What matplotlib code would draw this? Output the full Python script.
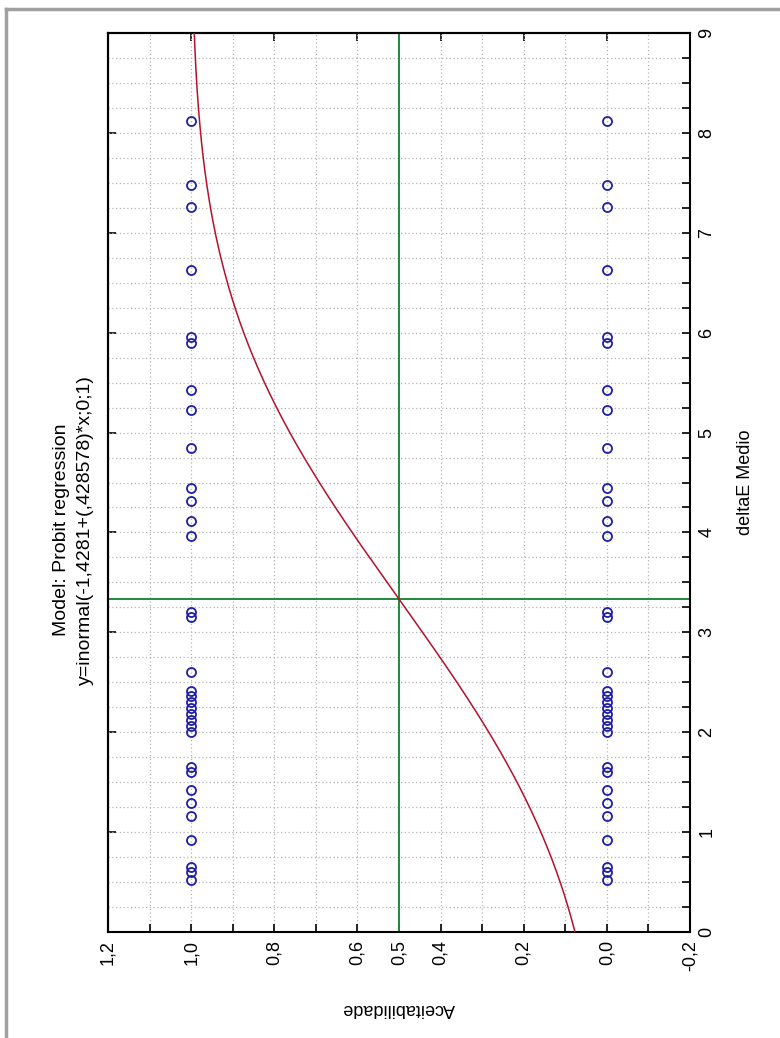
import math
import numpy as np
import matplotlib
matplotlib.use("Agg")
import matplotlib.pyplot as plt
from matplotlib.lines import Line2D

# ============ DATA ============
# deltaE Medio of each observation (same set for accepted=1 and rejected=0)
delta_e = [0.52, 0.60, 0.65, 0.92, 1.16, 1.29, 1.42, 1.60, 1.65,
           2.00, 2.06, 2.12, 2.18, 2.24, 2.30, 2.36, 2.41, 2.60,
           3.15, 3.20, 3.96, 4.11, 4.31, 4.44, 4.85, 5.23, 5.43,
           5.90, 5.96, 6.63, 7.26, 7.48, 8.12]
accept_levels = [1.0, 0.0]

# probit model y = inormal(b0 + b1*x; 0; 1)
b0 = -1.4281
b1 = 0.428578

acc_ticks = [1.2, 1.1, 1.0, 0.9, 0.8, 0.7, 0.6, 0.5, 0.4, 0.3, 0.2, 0.1, 0.0, -0.1, -0.2]
acc_labels = {1.2: "1,2", 1.0: "1,0", 0.8: "0,8", 0.6: "0,6", 0.5: "0,5",
              0.4: "0,4", 0.2: "0,2", 0.0: "0,0", -0.2: "-0,2"}
de_ticks = list(np.arange(0, 9.01, 0.25))

title_1 = "Model: Probit regression"
title_2 = "y=inormal(-1,4281+(,428578)*x;0;1)"

# ============ STYLE ============
plt.rcParams['font.family'] = ['Liberation Sans', 'DejaVu Sans']
FS = 13
POINT_COLOR = "#1f1fa8"
CURVE_COLOR = "#b3122e"
GREEN = "#1f8a3c"
GRID_COLOR = "#b5b5b5"

fig = plt.figure(figsize=(7.8, 10.38), dpi=100)
fig.patch.set_facecolor("white")

# chart is drawn turned a quarter turn: Aceitabilidade runs along the
# horizontal axis (inverted), deltaE Medio runs up the vertical axis
ax = fig.add_axes([108 / 780, 1 - 932 / 1038, 582 / 780, 899 / 1038])
ax.set_xlim(1.2, -0.2)
ax.set_ylim(0, 9)

ax.set_xticks(acc_ticks)
ax.set_xticklabels([acc_labels.get(round(t, 1), "") for t in acc_ticks],
                   rotation=90, fontsize=FS)
ax.set_yticks(de_ticks)
ax.set_yticklabels([str(int(t)) if float(t).is_integer() else "" for t in de_ticks],
                   rotation=90, fontsize=FS, va="center")
ax.yaxis.tick_right()
ax.tick_params(direction="in", length=6, width=1.2, pad=6)

sec_top = ax.secondary_xaxis("top")
sec_top.set_xticks([1.0, 0.8, 0.6, 0.4, 0.2, 0.0])
sec_top.tick_params(direction="in", length=6, width=1.2, labeltop=False)
sec_left = ax.secondary_yaxis("left")
sec_left.set_yticks(range(10))
sec_left.tick_params(direction="in", length=6, width=1.2, labelleft=False)

for sp in list(ax.spines.values()):
    sp.set_linewidth(1.5)
for s in (sec_top, sec_left):
    for sp in s.spines.values():
        sp.set_linewidth(1.5)

ax.grid(True, color=GRID_COLOR, linestyle=(0, (1, 2)), linewidth=0.9)
ax.set_axisbelow(True)

# fitted curve
xs = np.linspace(0, 9, 300)
ps = np.array([0.5 * (1 + math.erf((b0 + b1 * v) / math.sqrt(2))) for v in xs])
ax.plot(ps, xs, color=CURVE_COLOR, linewidth=1.1, zorder=3)

# 50% reference lines
x50 = -b0 / b1
ax.axvline(0.5, color=GREEN, linewidth=1.4, zorder=2)
ax.axhline(x50, color=GREEN, linewidth=1.4, zorder=2)

# observations
for lvl in accept_levels:
    ax.plot([lvl] * len(delta_e), delta_e, linestyle="none", marker="o",
            markersize=6.5, markerfacecolor="none", markeredgecolor=POINT_COLOR,
            markeredgewidth=1.3, zorder=4)

# labels (rotated with the chart)
fig.text(399 / 780, 1 - 1008 / 1038, "Aceitabilidade", rotation=180,
         ha="center", va="center", fontsize=FS)
fig.text(745 / 780, 1 - 482 / 1038, "deltaE Medio", rotation=90,
         ha="center", va="center", fontsize=FS)
fig.text(62 / 780, 1 - 530 / 1038, title_1, rotation=90,
         ha="center", va="center", fontsize=14)
fig.text(85 / 780, 1 - 530 / 1038, title_2, rotation=90,
         ha="center", va="center", fontsize=14)

# window frame (top and left edge)
fig.add_artist(Line2D([6 / 780, 1], [1 - 9 / 1038, 1 - 9 / 1038],
                      transform=fig.transFigure, color="#a0a0a0", linewidth=2.5))
fig.add_artist(Line2D([6 / 780, 6 / 780], [0, 1 - 9 / 1038],
                      transform=fig.transFigure, color="#a0a0a0", linewidth=2.5))

fig.savefig("out.png", dpi=100, facecolor="white")
